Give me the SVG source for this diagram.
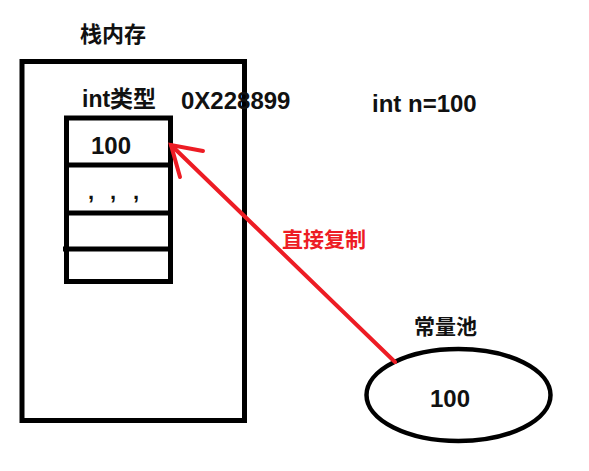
<svg xmlns="http://www.w3.org/2000/svg" width="589" height="471" viewBox="0 0 589 471">
<style>
.t{font-family:"Liberation Sans","Noto Sans CJK SC",sans-serif;font-weight:bold;fill:#111}
.k{font-family:"Noto Sans CJK SC","Liberation Sans",sans-serif;font-weight:bold;fill:#111}
.box{fill:none;stroke:#000;stroke-width:5}
.red{stroke:#ED1C24;stroke-width:4;fill:none;stroke-linecap:round}
</style>
<rect width="589" height="471" fill="#fff"/>
<g id="stack">
<text class="k" x="80" y="42" font-size="22">栈内存</text>
<rect class="box" x="22" y="61.5" width="222.5" height="359"/>
</g>
<g id="int-cell">
<text class="t" x="82" y="107" font-size="23">int类型</text>
<rect class="box" x="66.5" y="118" width="104" height="163.5"/>
<line class="box" x1="64" y1="165" x2="170" y2="165"/>
<line class="box" x1="64" y1="213" x2="170" y2="213"/>
<line class="box" x1="63" y1="249" x2="170" y2="249"/>
<text class="t" x="91" y="154" font-size="24">100</text>
<text class="t" x="88 110 133" y="199" font-size="22">,,,</text>
</g>
<g id="address">
<text class="t" x="181" y="109" font-size="24">0X228899</text>
</g>
<g id="decl">
<text class="t" x="372" y="112" font-size="24">int n=100</text>
</g>
<g id="pool">
<text class="k" x="414" y="334" font-size="21">常量池</text>
<ellipse cx="458.5" cy="395" rx="92" ry="46" fill="none" stroke="#000" stroke-width="4.5"/>
<text class="t" x="430" y="407" font-size="24">100</text>
</g>
<g id="connectors">
<line class="red" x1="395" y1="362" x2="171" y2="145"/>
<polyline class="red" points="203,151 171,145 180,177"/>
<text x="282" y="247" font-size="21" font-family="Noto Sans CJK SC,sans-serif" font-weight="bold" fill="#ED1C24">直接复制</text>
</g>
</svg>
